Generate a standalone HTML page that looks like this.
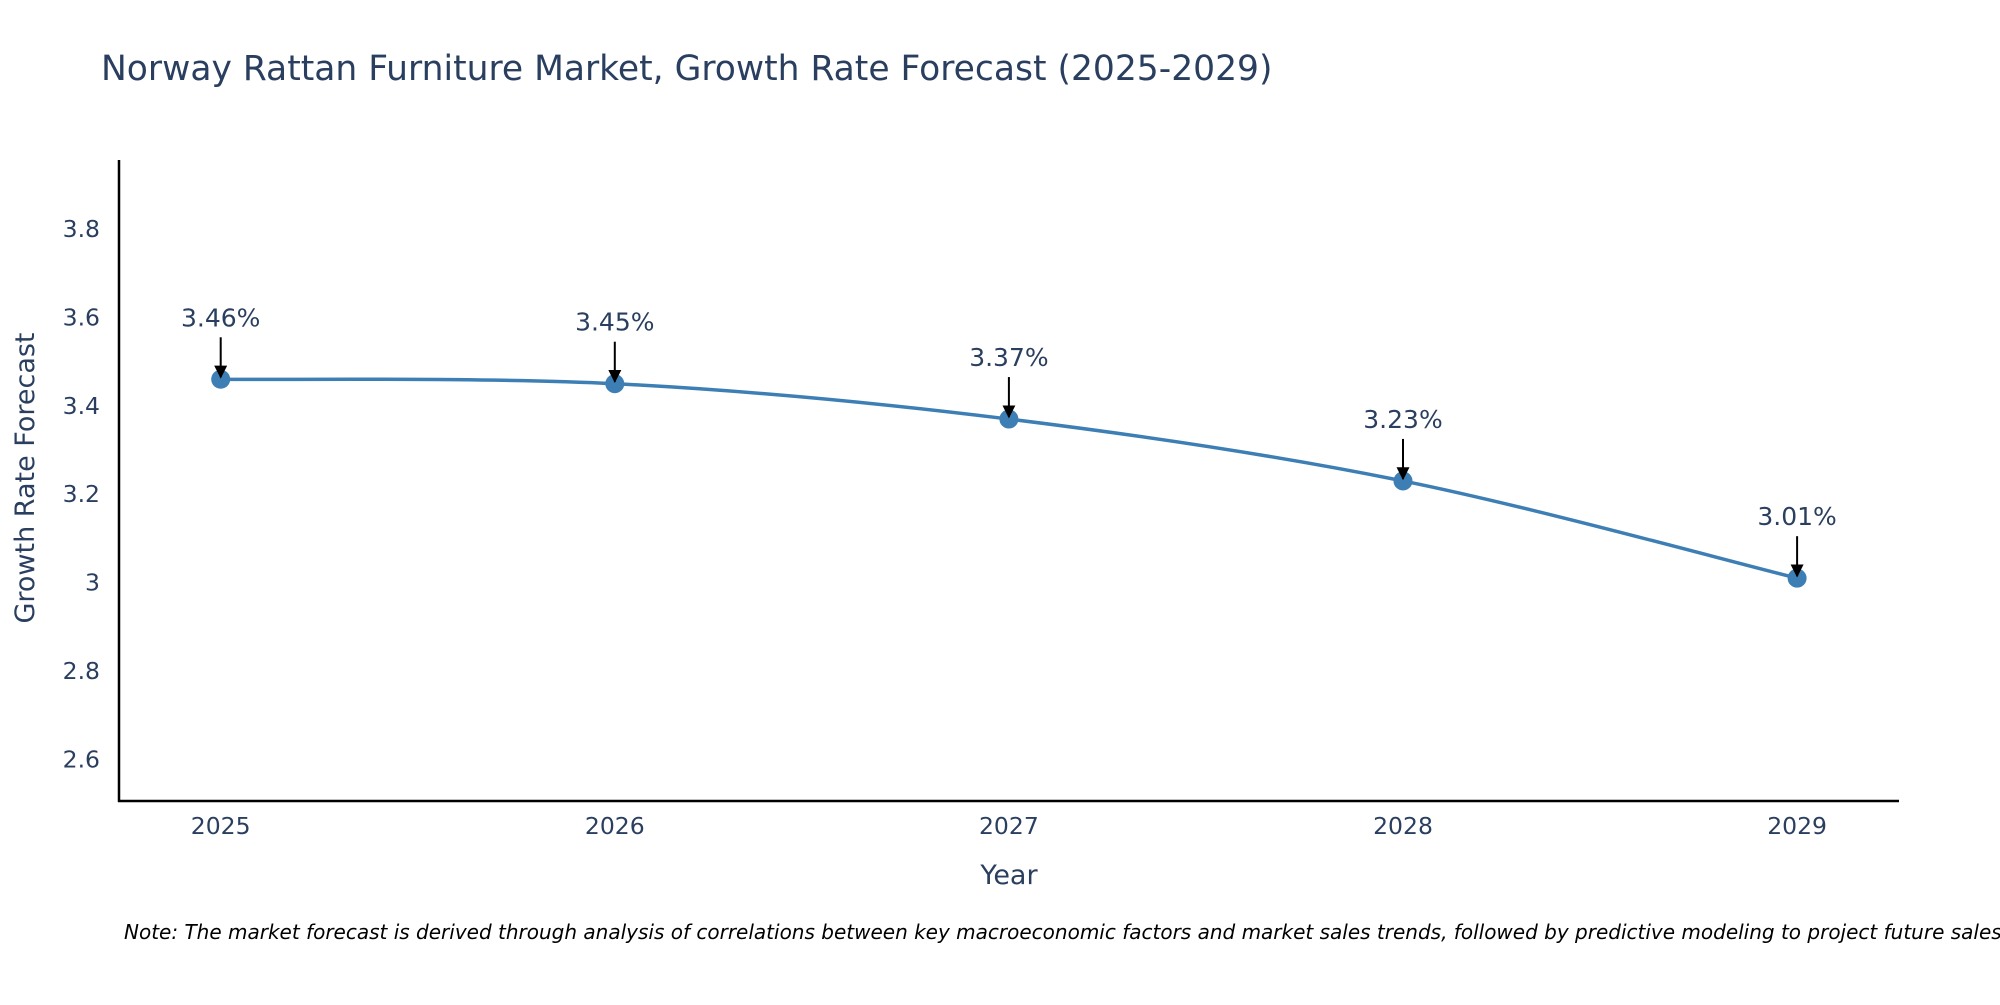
<!DOCTYPE html>
<html><head><meta charset="utf-8"><style>
body{margin:0;background:#fff;}
svg text{font-family:"DejaVu Sans","Liberation Sans",sans-serif;}
</style></head><body>
<svg id="chart" width="2000" height="1000" xmlns="http://www.w3.org/2000/svg">
<defs><marker id="arr" viewBox="0 0 10 10" refX="9" refY="5" markerWidth="13" markerHeight="13" markerUnits="userSpaceOnUse" orient="auto"><path d="M0,0L10,5L0,10z" fill="#000"/></marker></defs>
<text x="101" y="80" font-size="34.5" fill="#2a3f5f">Norway Rattan Furniture Market, Growth Rate Forecast (2025-2029)</text>
<g id="yticks"></g><g id="xticks"></g>
<line x1="119" y1="160" x2="119" y2="802" stroke="#000" stroke-width="2.5"/>
<line x1="118" y1="801" x2="1899" y2="801" stroke="#000" stroke-width="2.5"/>
<path id="line" fill="none" stroke="#3d7fb5" stroke-width="3.5"/>
<g id="marks"></g>
<text x="1009" y="884" font-size="27" fill="#2a3f5f" text-anchor="middle">Year</text>
<text transform="translate(34,478) rotate(-90)" font-size="27" fill="#2a3f5f" text-anchor="middle">Growth Rate Forecast</text>
<text x="124" y="939" font-size="20" font-style="italic" fill="#000">Note: The market forecast is derived through analysis of correlations between key macroeconomic factors and market sales trends, followed by predictive modeling to project future sales.</text>
</svg>
<script>
const years=[2025,2026,2027,2028,2029];
const values=[3.46,3.45,3.37,3.23,3.01];
const labels=["3.46%","3.45%","3.37%","3.23%","3.01%"];
const yTicks=[2.6,2.8,3,3.2,3.4,3.6,3.8];
const yTickLabels=["2.6","2.8","3","3.2","3.4","3.6","3.8"];
const NS="http://www.w3.org/2000/svg";
function X(yr){return 220.7+(yr-2025)*394.1;}
function Y(v){return 229+(3.8-v)/0.2*88.4;}
function mk(tag,attrs,parent,txt){const e=document.createElementNS(NS,tag);for(const k in attrs)e.setAttribute(k,attrs[k]);if(txt!==undefined)e.textContent=txt;parent.appendChild(e);return e;}
const yt=document.getElementById('yticks');
yTicks.forEach((t,i)=>{const e=mk('text',{x:100,y:Y(t)+8,'font-size':23.5,fill:'#2a3f5f','text-anchor':'end'},yt,yTickLabels[i]);

});
const xt=document.getElementById('xticks');
years.forEach(yr=>{const e=mk('text',{x:X(yr),y:834,'font-size':23.5,fill:'#2a3f5f','text-anchor':'middle'},xt,String(yr));

});
const P=years.map((yr,i)=>[X(yr),Y(values[i])]);
let d='M'+P[0][0]+','+P[0][1];
for(let i=0;i<P.length-1;i++){const p0=P[i-1]||P[i],p1=P[i],p2=P[i+1],p3=P[i+2]||P[i+1];
const c1=[p1[0]+(p2[0]-p0[0])/6,p1[1]+(p2[1]-p0[1])/6],c2=[p2[0]-(p3[0]-p1[0])/6,p2[1]-(p3[1]-p1[1])/6];
d+=' C'+c1+' '+c2+' '+p2;}
document.getElementById('line').setAttribute('d',d);
const g=document.getElementById('marks');
P.forEach((p,i)=>{const c=mk('circle',{cx:p[0],cy:p[1],r:9.5,fill:'#3d7fb5'},g);


const a=mk('line',{x1:p[0],y1:p[1]-42,x2:p[0],y2:p[1]-2,stroke:'#000','stroke-width':2,'marker-end':'url(#arr)'},g);


const t=mk('text',{x:p[0],y:p[1]-53,'font-size':25,fill:'#2a3f5f','text-anchor':'middle'},g,labels[i]);

});
</script>
</body></html>
